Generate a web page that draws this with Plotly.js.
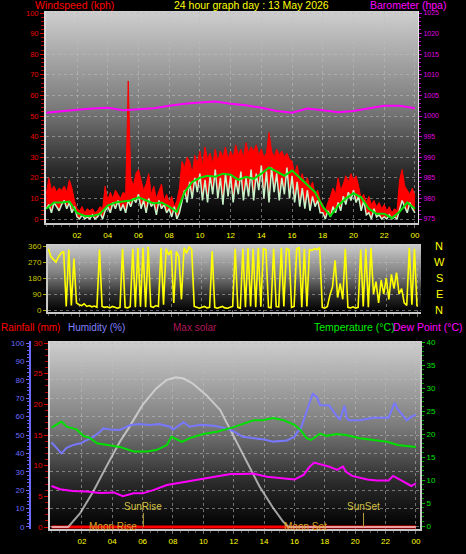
<!DOCTYPE html>
<html><head><meta charset="utf-8">
<script src="https://cdn.plot.ly/plotly-3.0.1.min.js"></script>
<style>html,body{margin:0;padding:0;background:#000;overflow:hidden}#chart{width:466px;height:554px}</style>
</head><body><div id="chart"></div>
<script>
// ---------------- DATA ----------------
const titleText = '24 hour graph day : 13 May 2026';
const hourTicks = [2,4,6,8,10,12,14,16,18,20,22,24];
const hourTickLabels = ['02','04','06','08','10','12','14','16','18','20','22','00'];

// wind, 10-minute samples from 00:00 (kph)
const windGust = [
 12,20,14,16,13,15, 14,16,13,19,15,9, 5,4,6,3,5,4, 5,3,4,6,5,16,
 9,13,10,14,12,10, 13,12,67,20,16,22, 24,19,14,17,22,12, 16,10,14,17,9,12,
 8,11,6,9,15,28, 25,30,28,22,31,27, 33,26,35,29,32,27, 34,28,33,30,35,29,
 33,30,36,31,34,30, 37,32,35,33,36,31, 34,30,32,42,33,30, 34,31,33,30,32,29,
 28,22,26,19,22,17, 20,15,18,12,14,9, 7,4,8,11,15,12, 20,14,17,21,18,22,
 19,21,16,10,12,8, 11,7,9,6,8,5, 7,4,6,3,5,4, 19,24,16,14,12,15, 11];
const windSpeed = [
 5,7,3,8,6,4, 7,9,5,8,3,6, 1,0,2,0,1,0, 2,0,1,3,0,4,
 6,3,8,5,9,4, 7,3,9,6,10,8, 12,5,9,3,10,6, 8,2,9,5,7,3,
 5,1,6,0,3,8, 14,8,18,10,20,13, 22,9,19,8,21,12, 24,10,20,7,22,11,
 21,8,19,12,23,9, 20,11,24,9,22,14, 26,10,23,8,25,13, 22,9,20,12,25,10,
 21,8,18,6,15,5, 14,4,11,6,9,3, 3,0,4,1,6,3, 8,4,11,7,13,9,
 14,8,11,4,9,2, 3,0,5,1,2,0, 1,0,2,0,1,0, 4,9,6,3,8,5, 3];
// average wind, 30-minute samples
const windAvg = [5,8,8,8.5,3,1.5,1.5,2.5,6.5,8,8.5,9,10.5,9,7.5,8,6,3.5,13,18,20,21,20.5,22,21.5,
 19,20.5,19.5,22,25,23,21,23.5,20,16.5,13,6,1.5,6.5,10,12.5,10.5,5,2.5,2.5,0.5,3.5,8,5];
// barometer, hourly (hPa)
const baro = [1000.8,1001.2,1001.5,1001.8,1002.0,1001.4,1001.6,1001.9,1002.5,1003.0,1003.3,1003.5,1003.0,
 1002.6,1002.0,1001.2,1000.8,1001.8,1001.4,1000.9,1001.2,1001.9,1002.5,1002.5,1001.9];
// wind direction, 10-minute samples (degrees)
const windDir = [
 345,300,285,270,300,320, 330,20,340,25,290,40, 30,25,35,20,25,18, 22,15,340,20,15,18,
 12,20,15,10,15,345, 15,12,20,345,15,350, 18,350,15,355,20,15, 25,20,350,30,345,310,
 335,40,330,300,60,350, 320,355,340,20,15,10, 15,20,12,15,330,15, 10,15,20,12,10,15,
 20,345,15,10,345,15, 350,20,345,15,350,18, 345,340,15,12,345,20, 18,350,20,345,340,15,
 20,345,350,15,345,20, 340,335,345,340,350,15, 10,20,85,130,280,70, 150,60,345,15,12,18,
 10,15,340,20,345,15, 350,90,160,40,170,90, 180,60,200,120,210,90, 120,40,25,350,30,345, 20];
const dirTicks = [0,90,180,270,360];
const dirLetters = ['N','E','S','W','N'];

// lower panel
const rainT = [0,24];
const rainV = [0,0];
const humT = [0,0.3,0.65,1,1.4,1.9,2.3,2.75,3.2,3.4,3.85,4.5,5.2,5.8,6.5,7.1,7.8,8.0,8.7,9.1,9.8,10.7,11.3,12,12.6,13.3,14,14.6,15.5,16.0,16.2,16.4,16.9,17.2,17.45,17.7,18.3,18.8,19.0,19.15,19.3,19.45,19.6,20.3,21.2,22.2,22.4,22.6,22.8,23,23.4,23.7,24];
const humV = [46,43,40,43,44.5,45.5,47.3,49,51.8,53.6,53,52.7,55.4,56,55.4,56,54.5,53,57,54.5,55.5,55,54,52,49,48.2,47.5,46.4,47,49,51.8,53,65.4,72.3,70.8,66.3,66,60,58.5,63,66,59,58,58,59.4,59.4,64,67.4,64,62,58,60,61];
const tempT = [0,0.65,1,1.65,2.1,2.5,3,3.85,4.5,5.4,6.3,6.9,7.6,7.9,8.2,8.6,9.1,10,10.9,11.8,12,13.3,13.9,14.6,15.3,16,16.4,16.8,17.1,17.7,18.1,18.8,19.4,20.3,21.2,22.1,22.8,23.5,24];
const tempV = [21.4,22.7,21.6,21,19.6,19.2,18,17.6,17.2,16.2,16.2,16.5,17.6,19.4,19.0,18.3,19.1,20,20.5,21.2,21.5,23,23,23.5,23,22,20.9,19.1,18.7,20.1,19.6,20,19.8,19.1,18.7,18.3,17.6,17.4,17.2];
const dewT = [0,0.55,1.4,2.3,3.2,4.1,4.7,5.4,6,6.7,7.6,8.5,9.3,10.2,11.1,11.8,12.6,13.3,14.2,15.3,16,16.6,17,17.3,17.8,18.3,18.8,19.2,19.4,19.8,20.8,21.4,22.2,22.5,23,23.4,23.7,24];
const dewV = [8.7,8,7.6,7.5,7.2,7.3,6.5,7.1,7.1,7.8,8.9,9.4,10,10.4,10.9,11.3,11.3,11.4,10.7,10.4,10.1,11.1,12.9,13.8,13.3,12.9,12.2,12.9,11.8,10.9,10.1,9.9,9.9,10.9,10,9.3,8.7,9.3];
const solarT = [0,1.1,1.9,2.75,3.6,4.5,5.05,5.4,6.0,6.9,7.6,8.2,8.7,9.3,10.2,11.1,11.8,12.0,12.8,13.7,14.6,15.25,15.6,24];
const solarV = [0,0,2.3,5.8,9.8,13.9,16,17.5,19.9,22.6,24,24.4,24.2,23.4,21.5,19.1,15.8,14.7,10.9,6.6,3.1,0.9,0,0];
const eventNames = ['SunRise','SunSet','Moon Rise','Moon Set'];
const eventHours = [6.05,20.55,4.05,16.75];

// ---------------- HELPERS ----------------
const W = 466, H = 554;
const P = px => px / W;
const Q = py => 1 - py / H;
const FONT = 'Liberation Sans, Arial, sans-serif';

function gradientURL() {
  const c = document.createElement('canvas'); c.width = 4; c.height = 256;
  const g = c.getContext('2d');
  const lg = g.createLinearGradient(0, 0, 0, 256);
  lg.addColorStop(0, '#cfcfcf'); lg.addColorStop(0.45, '#7c7c7c');
  lg.addColorStop(0.75, '#2c2c2c'); lg.addColorStop(1, '#000000');
  g.fillStyle = lg; g.fillRect(0, 0, 4, 256);
  return c.toDataURL();
}
const grad = gradientURL();
function bgImage(l, t, r, b) {
  return {source: grad, xref: 'paper', yref: 'paper', x: P(l), y: Q(t),
    sizex: P(r) - P(l), sizey: Q(t) - Q(b), sizing: 'stretch',
    xanchor: 'left', yanchor: 'top', layer: 'below'};
}
const gridC = 'rgba(190,190,190,0.55)';

// ---------------- TRACES ----------------
const dt10 = 1/6;
const traces = [
  {x0: 0, dx: dt10, y: windSpeed, xaxis: 'x', yaxis: 'y', mode: 'lines',
   line: {width: 0, color: 'rgba(0,0,0,0)'}, hoverinfo: 'skip', showlegend: false},
  {x0: 0, dx: dt10, y: windGust, xaxis: 'x', yaxis: 'y', mode: 'lines', fill: 'tonexty',
   fillcolor: '#ff0000', line: {width: 1, color: '#ff0000'}, showlegend: false},
  {x0: 0, dx: dt10, y: windSpeed, xaxis: 'x', yaxis: 'y', mode: 'lines',
   line: {width: 1.5, color: '#c8f2c8'}, showlegend: false},
  {x0: 0, dx: 0.5, y: windAvg, xaxis: 'x', yaxis: 'y', mode: 'lines',
   line: {width: 2, color: '#00e000'}, showlegend: false},
  {x0: 0, dx: 1, y: baro, xaxis: 'x', yaxis: 'y2', mode: 'lines',
   line: {width: 2, color: '#ff00ff'}, showlegend: false},
  {x0: 0, dx: dt10, y: windDir, xaxis: 'x2', yaxis: 'y3', mode: 'lines',
   line: {width: 1.6, color: '#ffff00'}, showlegend: false},
  {x: rainT, y: rainV, xaxis: 'x3', yaxis: 'y4', mode: 'lines',
   line: {width: 3, color: '#ff0000'}, showlegend: false},
  {x: solarT, y: solarV, xaxis: 'x3', yaxis: 'y4', mode: 'lines',
   line: {width: 2, color: 'rgba(225,225,225,0.7)'}, showlegend: false},
  {x: humT, y: humV, xaxis: 'x3', yaxis: 'y5', mode: 'lines',
   line: {width: 2, color: '#7878ff'}, showlegend: false},
  {x: tempT, y: tempV, xaxis: 'x3', yaxis: 'y6', mode: 'lines',
   line: {width: 2, color: '#00e000'}, showlegend: false},
  {x: dewT, y: dewV, xaxis: 'x3', yaxis: 'y6', mode: 'lines',
   line: {width: 2, color: '#ff00ff'}, showlegend: false}
];

// ---------------- LAYOUT ----------------
const tickF = (c, s) => ({family: FONT, size: s || 8, color: c});
function xAxis(dom, range, anchor, labels) {
  return {domain: dom, range: range, anchor: anchor, tickmode: 'array',
    tickvals: hourTicks, ticktext: hourTickLabels, showticklabels: labels,
    tickfont: tickF('#ffff00'), ticks: 'outside', ticklen: 3, tickcolor: '#707070',
    minor: {dtick: 0.5, tick0: 0, ticks: 'outside', ticklen: 2, tickcolor: '#505050', showgrid: false},
    showline: true, linecolor: '#c8c8c8', linewidth: 2,
    showgrid: true, gridcolor: gridC, griddash: 'dot', gridwidth: 1,
    zeroline: false, automargin: false, fixedrange: true};
}
const layout = {
  width: W, height: H, margin: {l: 0, r: 0, t: 0, b: 0},
  paper_bgcolor: '#000000', plot_bgcolor: 'rgba(0,0,0,0)',
  showlegend: false, font: {family: FONT},
  images: [bgImage(46, 11, 418, 223), bgImage(48, 244, 421, 312), bgImage(50, 341, 420, 529)],
  xaxis: xAxis([P(46), P(418)], [-0.02, 24.2], 'y', true),
  xaxis2: xAxis([P(48), P(421)], [-0.02, 24.26], 'y3', false),
  xaxis3: xAxis([P(50), P(420)], [-0.1, 24.27], 'y4', true),
  yaxis: {domain: [Q(223), Q(11)], range: [-1.94, 100.97], anchor: 'x',
    tick0: 0, dtick: 10, tickfont: tickF('#ee0000', 7.5), ticks: 'outside', ticklen: 4, tickcolor: '#dd0000',
    minor: {dtick: 2, ticks: 'outside', ticklen: 3, tickcolor: '#bb0000', showgrid: false},
    showline: true, linecolor: '#d8d8d8', linewidth: 2,
    showgrid: true, gridcolor: gridC, griddash: 'dot', zeroline: false, automargin: false},
  yaxis2: {overlaying: 'y', side: 'right', anchor: 'x', range: [974.03, 1025.49],
    tick0: 975, dtick: 5, tickfont: tickF('#e000e0', 7), ticks: 'outside', ticklen: 3, tickcolor: '#d000d0',
    minor: {dtick: 1, ticks: 'outside', ticklen: 2, tickcolor: '#b000b0'},
    showline: true, linecolor: '#e8e8e8', linewidth: 1, showgrid: false, zeroline: false, automargin: false},
  yaxis3: {domain: [Q(312), Q(244)], range: [-11.25, 371.25], anchor: 'x2',
    tickmode: 'array', tickvals: dirTicks, tickfont: tickF('#c8c800'), ticks: 'outside', ticklen: 3, tickcolor: '#a8a800',
    showline: true, linecolor: '#c8c8c8', linewidth: 2,
    showgrid: true, gridcolor: gridC, griddash: 'dot', zeroline: false, automargin: false},
  yaxis4: {domain: [Q(529), Q(341)], range: [-0.326, 30.326], anchor: 'x3',
    tick0: 0, dtick: 5, tickfont: tickF('#ee0000'), ticks: 'outside', ticklen: 4, tickcolor: '#dd0000',
    minor: {dtick: 1, ticks: 'outside', ticklen: 3, tickcolor: '#bb0000'},
    showline: true, linecolor: '#d8d8d8', linewidth: 2, showgrid: false, zeroline: false, automargin: false},
  yaxis5: {overlaying: 'y4', anchor: 'free', position: P(30), side: 'left', range: [-1.09, 101.09],
    tick0: 0, dtick: 10, tickfont: tickF('#6a6aff'), ticks: 'outside', ticklen: 3, tickcolor: '#6a6aff',
    minor: {dtick: 2, ticks: 'outside', ticklen: 2, tickcolor: '#5a5aee'},
    showline: true, linecolor: '#6a6aff', linewidth: 2,
    showgrid: true, gridcolor: gridC, griddash: 'dot', zeroline: false, automargin: false},
  yaxis6: {overlaying: 'y4', side: 'right', anchor: 'x3', range: [-0.65, 40.22],
    tick0: 0, dtick: 5, tickfont: tickF('#00e000'), ticks: 'outside', ticklen: 3, tickcolor: '#00c000',
    minor: {dtick: 1, ticks: 'outside', ticklen: 2, tickcolor: '#00a000'},
    showline: true, linecolor: '#c8c8c8', linewidth: 2, showgrid: false, zeroline: false, automargin: false},
  annotations: [],
  shapes: []
};

const ann = layout.annotations;
function txt(text, x, y, color, size, xanchor) {
  ann.push({text: text, xref: 'paper', yref: 'paper', x: P(x), y: Q(y), xanchor: xanchor || 'center',
    yanchor: 'middle', showarrow: false, borderpad: 0,
    font: {family: FONT, size: size || 11, color: color}});
}
txt('Windspeed (kph)', 74, 5, '#ff0000', 10.5);
txt(titleText, 251, 5, '#ffff00', 10.5);
txt('Barometer (hpa)', 408, 5, '#ff00ff', 10.5);
txt('Rainfall (mm)', 0, 327, '#ff0000', 10, 'left');
txt('Humidity (%)', 67, 327, '#8080ff', 10, 'left');
txt('Max solar', 172, 327, '#b0185a', 10, 'left');
txt('Temperature (°C)', 313, 327, '#00ee00', 10.5, 'left');
txt('Dew Point (°C)', 392, 327, '#ff00ff', 10.5, 'left');
dirTicks.forEach((d, i) => ann.push({text: dirLetters[i], xref: 'paper', yref: 'y3', x: P(439), y: d,
  xanchor: 'center', yanchor: 'middle', showarrow: false, font: {family: FONT, size: 11, color: '#ffff00'}}));

eventNames.forEach((name, i) => {
  const isSun = name.indexOf('Sun') === 0;
  ann.push({text: name, xref: 'x3', yref: 'y4', x: eventHours[i], y: isSun ? 3.3 : 0.1,
    xanchor: 'center', yanchor: 'middle', showarrow: false,
    font: {family: FONT, size: 10, color: isSun ? '#d2c040' : '#d8a828'}});
  if (isSun) layout.shapes.push({type: 'line', xref: 'x3', yref: 'y4', x0: eventHours[i], x1: eventHours[i],
    y0: 0, y1: 2.3, line: {color: '#b8a038', width: 1}});
});

Plotly.newPlot('chart', traces, layout, {staticPlot: true, displayModeBar: false});
</script>
</body></html>
